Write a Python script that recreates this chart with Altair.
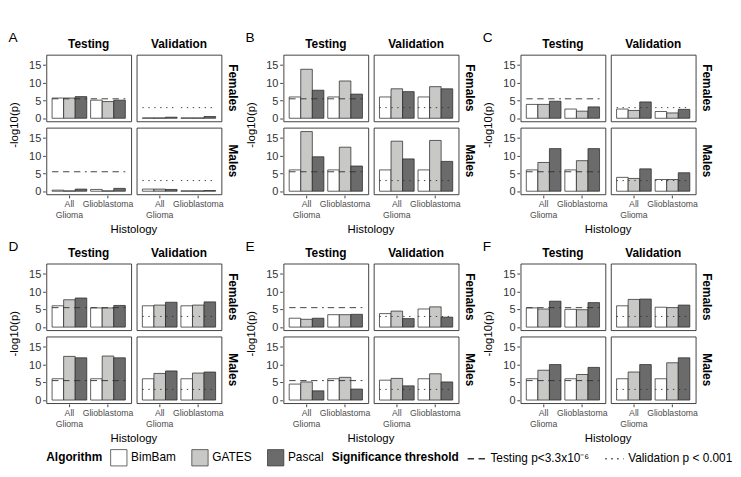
import altair as alt
import pandas as pd

PANELS = ["A", "B", "C", "D", "E", "F"]
SEXES = ["Females", "Males"]
SETS = ["Testing", "Validation"]
HISTOLOGY = ["All Glioma", "Glioblastoma"]
ALGORITHMS = ["BimBam", "GATES", "Pascal"]
ALG_COLORS = ["#ffffff", "#c8c8c6", "#6b6b6b"]
THRESH_LABELS = ["Testing p<3.3x10\u207b\u2076", "Validation p < 0.001"]
THRESH_VALUES = [5.48, 3.0]  # -log10(3.3e-6), -log10(0.001)
Y_TICKS = [0, 5, 10, 15]

# order in each list: All Glioma (BimBam, GATES, Pascal), Glioblastoma (BimBam, GATES, Pascal)
A_females_testing = [5.7, 5.7, 6.1, 5.1, 4.7, 5.1]
A_females_validation = [0.1, 0.1, 0.3, 0.1, 0.1, 0.5]
A_males_testing = [0.3, 0.1, 0.6, 0.5, 0.1, 0.8]
A_males_validation = [0.6, 0.6, 0.5, 0.1, 0.1, 0.2]
B_females_testing = [6.0, 13.8, 7.9, 6.0, 10.5, 6.8]
B_females_validation = [6.0, 8.3, 7.5, 6.0, 8.9, 8.3]
B_males_testing = [6.0, 16.8, 9.7, 6.0, 12.4, 7.1]
B_males_validation = [6.0, 14.1, 9.1, 6.0, 14.3, 8.4]
C_females_testing = [3.9, 3.9, 4.8, 2.6, 2.0, 3.2]
C_females_validation = [2.6, 2.2, 4.6, 1.9, 1.5, 2.5]
C_males_testing = [6.0, 8.1, 12.0, 6.0, 8.6, 12.0]
C_males_validation = [3.9, 3.6, 6.3, 3.3, 3.3, 5.2]
D_females_testing = [6.0, 7.7, 8.2, 5.4, 5.4, 6.1]
D_females_validation = [6.0, 6.2, 7.0, 6.0, 6.2, 7.1]
D_males_testing = [6.0, 12.3, 11.9, 6.0, 12.4, 11.9]
D_males_validation = [6.0, 7.5, 8.2, 6.0, 7.6, 7.9]
E_females_testing = [2.5, 2.2, 2.5, 3.5, 3.5, 3.6]
E_females_validation = [3.8, 4.5, 2.4, 5.1, 5.7, 2.8]
E_males_testing = [4.5, 5.1, 2.6, 6.0, 6.4, 3.1]
E_males_validation = [5.6, 6.1, 4.0, 6.0, 7.4, 5.1]
F_females_testing = [5.4, 5.1, 7.3, 5.0, 4.9, 6.9]
F_females_validation = [6.0, 7.8, 7.9, 5.6, 5.5, 6.2]
F_males_testing = [6.0, 8.4, 10.0, 6.0, 7.2, 9.2]
F_males_validation = [6.0, 7.9, 10.0, 6.0, 10.5, 11.9]

series = {
    ("A", "Females", "Testing"): A_females_testing,
    ("A", "Females", "Validation"): A_females_validation,
    ("A", "Males", "Testing"): A_males_testing,
    ("A", "Males", "Validation"): A_males_validation,
    ("B", "Females", "Testing"): B_females_testing,
    ("B", "Females", "Validation"): B_females_validation,
    ("B", "Males", "Testing"): B_males_testing,
    ("B", "Males", "Validation"): B_males_validation,
    ("C", "Females", "Testing"): C_females_testing,
    ("C", "Females", "Validation"): C_females_validation,
    ("C", "Males", "Testing"): C_males_testing,
    ("C", "Males", "Validation"): C_males_validation,
    ("D", "Females", "Testing"): D_females_testing,
    ("D", "Females", "Validation"): D_females_validation,
    ("D", "Males", "Testing"): D_males_testing,
    ("D", "Males", "Validation"): D_males_validation,
    ("E", "Females", "Testing"): E_females_testing,
    ("E", "Females", "Validation"): E_females_validation,
    ("E", "Males", "Testing"): E_males_testing,
    ("E", "Males", "Validation"): E_males_validation,
    ("F", "Females", "Testing"): F_females_testing,
    ("F", "Females", "Validation"): F_females_validation,
    ("F", "Males", "Testing"): F_males_testing,
    ("F", "Males", "Validation"): F_males_validation,
}

rows = []
for (panel, sex, st), vals in series.items():
    ti = SETS.index(st)
    for hi, h in enumerate(HISTOLOGY):
        for ai, a in enumerate(ALGORITHMS):
            rows.append({
                "Panel": panel, "Sex": sex, "Set": st, "Histology": h,
                "Algorithm": a, "value": vals[hi * 3 + ai],
                "thresh": THRESH_VALUES[ti], "Threshold": THRESH_LABELS[ti],
            })
df = pd.DataFrame(rows)

W, H = 93, 73
x_scale = alt.Scale(domain=HISTOLOGY, paddingInner=0.1, paddingOuter=0.15)
y_scale = alt.Scale(domain=[-0.85, 17.9], nice=False, zero=False)
x_axis = alt.Axis(labelAngle=0, labelOverlap=False, labelAlign="center",
                  labelExpr="datum.value == 'All Glioma' ? ['All', 'Glioma'] : datum.value")
y_axis = alt.Axis(values=Y_TICKS, tickCount=4, labelOverlap=False, labelFlush=False)


def panel_chart(letter):
    bars = alt.Chart().mark_bar(stroke="#262626", strokeWidth=0.8).encode(
        x=alt.X("Histology:N", scale=x_scale, sort=HISTOLOGY, title=None, axis=x_axis),
        xOffset=alt.XOffset("Algorithm:N", sort=ALGORITHMS,
                            scale=alt.Scale(domain=ALGORITHMS, paddingInner=0, paddingOuter=0)),
        y=alt.Y("value:Q", scale=y_scale, title=None, axis=y_axis),
        y2=alt.datum(0),
        fill=alt.Fill("Algorithm:N", scale=alt.Scale(domain=ALGORITHMS, range=ALG_COLORS),
                      legend=alt.Legend(title="Algorithm", symbolType="square", symbolSize=320,
                                        symbolStrokeColor="#333333", symbolStrokeWidth=0.8)),
    )
    rules = alt.Chart().transform_filter(alt.datum.Algorithm == "BimBam").mark_rule(
        strokeWidth=1, color="#333333").encode(
        x=alt.X("Histology:N", bandPosition=0, title=None, axis=x_axis),
        x2=alt.X2("Histology:N", bandPosition=1),
        y=alt.Y("thresh:Q", title=None, axis=y_axis),
        strokeDash=alt.StrokeDash("Threshold:N",
                                  scale=alt.Scale(domain=THRESH_LABELS, range=[[7, 5], [1.5, 5]]),
                                  legend=alt.Legend(title="Significance threshold", symbolType="stroke",
                                                    symbolStrokeColor="#333333", symbolSize=400)),
    )
    sub = df[df["Panel"] == letter].reset_index(drop=True)
    return alt.layer(bars, rules).properties(width=W, height=H).facet(
        row=alt.Row("Sex:N", sort=SEXES, title="-log10(p)",
                    header=alt.Header(labelOrient="right", labelAngle=90, labelFontWeight="bold",
                                      labelFontSize=13, labelPadding=4,
                                      titleOrient="left", titleAngle=-90, titleFontWeight="normal",
                                      titleFontSize=12.5, titlePadding=-14)),
        column=alt.Column("Set:N", sort=SETS, title="Histology",
                          header=alt.Header(labelOrient="top", labelFontWeight="bold", labelFontSize=13,
                                            labelPadding=3, titleOrient="bottom", titleFontWeight="normal",
                                            titleFontSize=12.5, titlePadding=-5)),
        spacing={"row": 5, "column": 4},
        data=sub,
    ).properties(
        title=alt.TitleParams(letter, anchor="start", fontSize=15, fontWeight="normal",
                              offset=-6, frame="bounds")
    )


top = alt.hconcat(*[panel_chart(p) for p in PANELS[:3]], spacing=8)
bottom = alt.hconcat(*[panel_chart(p) for p in PANELS[3:]], spacing=8)

chart = alt.vconcat(top, bottom, spacing=4).resolve_scale(
    fill="shared", strokeDash="shared").resolve_legend(fill="shared", strokeDash="shared").properties(
    padding={"left": 0, "top": 2, "right": 0, "bottom": 0}
).configure(font="Liberation Sans").configure_view(
    stroke="#333333", strokeWidth=1
).configure_axis(
    grid=False, domain=False, tickColor="#333333", tickSize=3,
    labelColor="#333333", labelFontSize=12, labelPadding=2,
).configure_axisX(labelFontSize=9.5, labelColor="#4d4d4d", labelLineHeight=12).configure_header(
    titleColor="#000000", labelColor="#000000"
).configure_legend(
    orient="bottom", direction="horizontal", titleOrient="left", titleFontSize=13,
    titleFontWeight="bold", labelFontSize=13, labelColor="#000000", titleColor="#000000",
    columnPadding=14, offset=4, titlePadding=8,
)

chart.save("out.html", embed_options={"renderer": "svg", "actions": False})
